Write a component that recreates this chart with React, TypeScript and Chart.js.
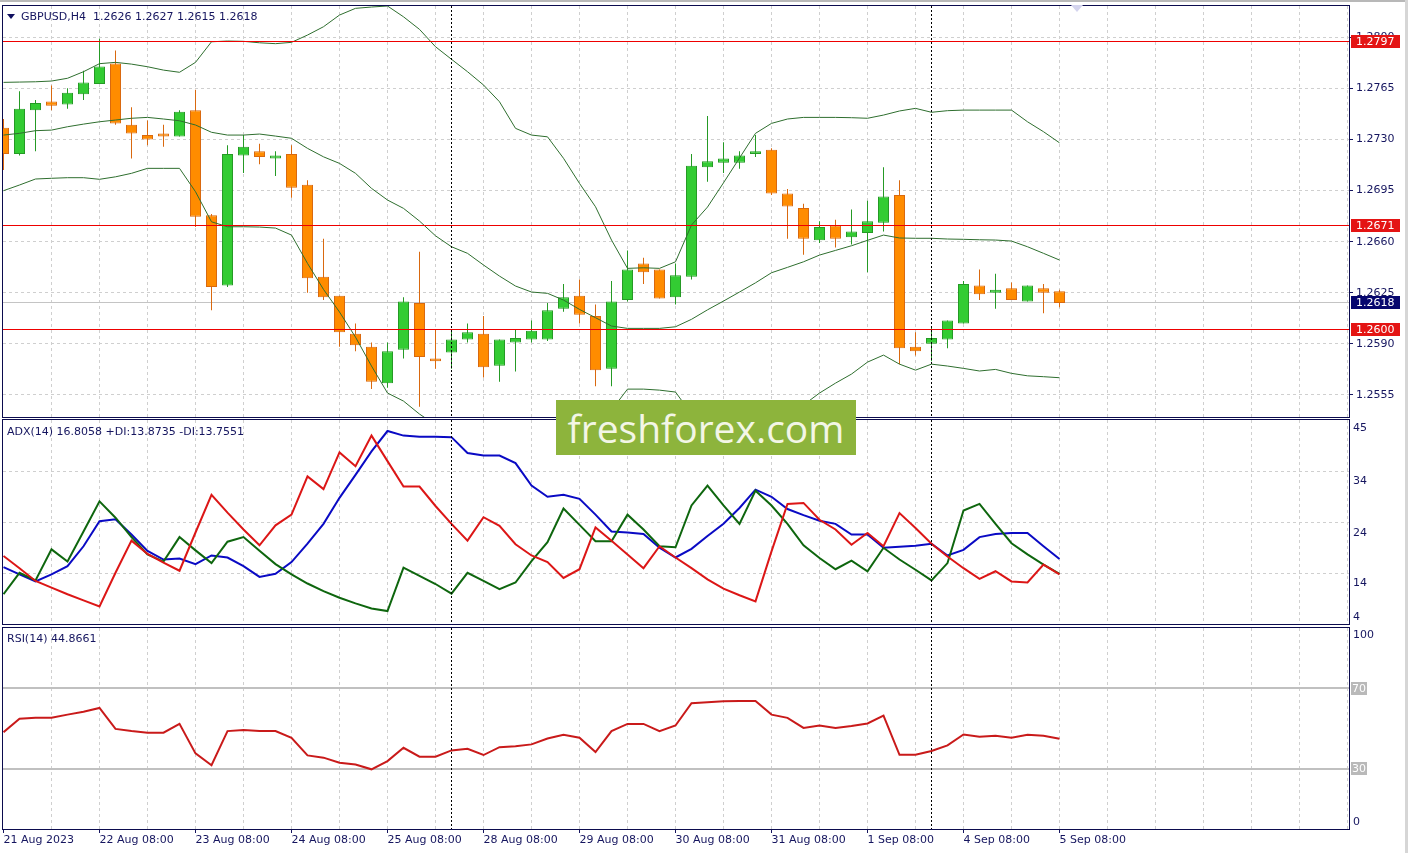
import React, { useEffect, useRef } from 'react';
import { Chart, registerables } from 'chart.js';

Chart.register(...registerables);

// ---------------- data ----------------
const symbolTitle = 'GBPUSD,H4';
const lastOHLC = '1.2626 1.2627 1.2615 1.2618';
const adxTitle = 'ADX(14) 16.8058 +DI:13.8735 -DI:13.7551';
const rsiTitle = 'RSI(14) 44.8661';
const watermark = 'freshforex.com';

const openP = [
  1.2738, 1.2720, 1.2750, 1.2756, 1.2754, 1.2761, 1.2768, 1.2782, 1.2740, 1.2733,
  1.2734, 1.2732, 1.2750, 1.2678, 1.2630, 1.2719, 1.2722, 1.2717, 1.2720, 1.2699,
  1.2636, 1.2623, 1.2597, 1.2588, 1.2563, 1.2586, 1.2618, 1.2580, 1.2584, 1.2593,
  1.2597, 1.2575, 1.2591, 1.2593, 1.2593, 1.2614, 1.2623, 1.2609, 1.2573, 1.2620,
  1.2645, 1.2641, 1.2622, 1.2636, 1.2711, 1.2714, 1.2714, 1.2720, 1.2723, 1.2693,
  1.2683, 1.2661, 1.2671, 1.2663, 1.2666, 1.2673, 1.2692, 1.2588, 1.2590, 1.2593,
  1.2604, 1.2630, 1.2625, 1.2628, 1.2619, 1.2628, 1.2626,
];
const highP = [
  1.2744, 1.2763, 1.2757, 1.2767, 1.2765, 1.2777, 1.2799, 1.2791, 1.2752, 1.2743,
  1.2740, 1.2750, 1.2764, 1.2679, 1.2726, 1.2733, 1.2727, 1.2722, 1.2726, 1.2702,
  1.2662, 1.2623, 1.2604, 1.2591, 1.2591, 1.2622, 1.2653, 1.2600, 1.2599, 1.2604,
  1.2609, 1.2593, 1.2600, 1.2606, 1.2618, 1.2631, 1.2634, 1.2617, 1.2633, 1.2654,
  1.2649, 1.2641, 1.2645, 1.2720, 1.2746, 1.2728, 1.2722, 1.2733, 1.2724, 1.2696,
  1.2686, 1.2674, 1.2675, 1.2682, 1.2688, 1.2711, 1.2702, 1.2598, 1.2601, 1.2606,
  1.2633, 1.2641, 1.2638, 1.2632, 1.2630, 1.2631, 1.2627,
];
const lowP = [
  1.2709, 1.2719, 1.2722, 1.2750, 1.2751, 1.2757, 1.2768, 1.2740, 1.2717, 1.2726,
  1.2725, 1.2732, 1.2670, 1.2613, 1.2629, 1.2707, 1.2713, 1.2705, 1.2690, 1.2625,
  1.2620, 1.2588, 1.2585, 1.2559, 1.2560, 1.2580, 1.2547, 1.2573, 1.2573, 1.2591,
  1.2567, 1.2564, 1.2571, 1.2591, 1.2592, 1.2612, 1.2604, 1.2561, 1.2561, 1.2619,
  1.2631, 1.2621, 1.2617, 1.2634, 1.2701, 1.2707, 1.2710, 1.2718, 1.2692, 1.2662,
  1.2651, 1.2659, 1.2656, 1.2658, 1.2639, 1.2667, 1.2576, 1.2582, 1.2578, 1.2587,
  1.2604, 1.2620, 1.2614, 1.2620, 1.2619, 1.2611, 1.2615,
];
const closeP = [
  1.2720, 1.2751, 1.2755, 1.2753, 1.2762, 1.2769, 1.2780, 1.2741, 1.2734, 1.2730,
  1.2732, 1.2749, 1.2677, 1.2629, 1.2720, 1.2725, 1.2718, 1.2719, 1.2697, 1.2635,
  1.2622, 1.2598, 1.2589, 1.2564, 1.2585, 1.2619, 1.2581, 1.2578, 1.2593, 1.2598,
  1.2574, 1.2593, 1.2594, 1.2599, 1.2613, 1.2622, 1.2610, 1.2572, 1.2619, 1.2641,
  1.2639, 1.2621, 1.2637, 1.2712, 1.2715, 1.2717, 1.2719, 1.2722, 1.2693, 1.2684,
  1.2662, 1.2670, 1.2662, 1.2667, 1.2674, 1.2691, 1.2587, 1.2585, 1.2594, 1.2606,
  1.2631, 1.2624, 1.2627, 1.2620, 1.2630, 1.2625, 1.2618,
];

const bbUpper = [
  1.27691, 1.27693, 1.27695, 1.27700, 1.27719, 1.27764, 1.27819, 1.27828, 1.27816, 1.27798,
  1.27775, 1.27760, 1.27828, 1.27969, 1.27974, 1.27972, 1.27962, 1.27956, 1.27965, 1.28015,
  1.28072, 1.28152, 1.28198, 1.28207, 1.28214, 1.28140, 1.28054, 1.27935, 1.27849, 1.27764,
  1.27673, 1.27558, 1.27376, 1.27330, 1.27318, 1.27171, 1.26999, 1.26839, 1.26611, 1.26417,
  1.26421, 1.26417, 1.26462, 1.26714, 1.26837, 1.27003, 1.27173, 1.27342, 1.27410, 1.27440,
  1.27451, 1.27451, 1.27451, 1.27449, 1.27445, 1.27467, 1.27495, 1.27513, 1.27486, 1.27497,
  1.27501, 1.27501, 1.27501, 1.27501, 1.27421, 1.27353, 1.27277,
];
const bbMiddle = [
  1.27330, 1.27342, 1.27360, 1.27364, 1.27387, 1.27405, 1.27421, 1.27433, 1.27445, 1.27451,
  1.27440, 1.27428, 1.27399, 1.27349, 1.27330, 1.27330, 1.27337, 1.27323, 1.27308, 1.27239,
  1.27181, 1.27136, 1.27068, 1.26965, 1.26885, 1.26828, 1.26741, 1.26640, 1.26565, 1.26520,
  1.26440, 1.26364, 1.26296, 1.26255, 1.26246, 1.26200, 1.26136, 1.26079, 1.26022, 1.26006,
  1.26006, 1.26006, 1.26017, 1.26068, 1.26133, 1.26193, 1.26255, 1.26318, 1.26387, 1.26424,
  1.26462, 1.26508, 1.26540, 1.26572, 1.26609, 1.26645, 1.26625, 1.26623, 1.26623, 1.26618,
  1.26616, 1.26613, 1.26611, 1.26604, 1.26565, 1.26520, 1.26474,
];
const bbLower = [
  1.26949, 1.26988, 1.27029, 1.27034, 1.27038, 1.27038, 1.27027, 1.27044, 1.27068, 1.27102,
  1.27102, 1.27102, 1.26942, 1.26736, 1.26702, 1.26702, 1.26700, 1.26693, 1.26645, 1.26451,
  1.26273, 1.26118, 1.25946, 1.25748, 1.25563, 1.25508, 1.25419, 1.25346, 1.25282, 1.25275,
  1.25207, 1.25172, 1.25214, 1.25179, 1.25172, 1.25227, 1.25275, 1.25316, 1.25446, 1.25590,
  1.25590, 1.25583, 1.25570, 1.25419, 1.25426, 1.25385, 1.25337, 1.25296, 1.25364, 1.25405,
  1.25481, 1.25563, 1.25631, 1.25693, 1.25775, 1.25823, 1.25761, 1.25720, 1.25761, 1.25748,
  1.25732, 1.25714, 1.25725, 1.25698, 1.25681, 1.25675, 1.25668,
];

const adxLine = [
  15.2, 13.8, 12.4, 13.8, 15.4, 19.3, 24.2, 24.6, 21.6, 18.4,
  16.7, 16.9, 15.8, 17.5, 17.1, 15.4, 13.3, 13.9, 16.2, 19.8,
  23.7, 28.8, 33.3, 37.9, 41.9, 41.0, 40.8, 40.8, 40.7, 37.6,
  37.1, 37.1, 35.6, 31.2, 29.0, 29.4, 28.6, 25.5, 22.2, 22.0,
  21.7, 19.0, 17.1, 18.8, 21.3, 23.7, 26.8, 30.4, 29.0, 26.6,
  25.4, 24.3, 23.7, 21.6, 21.6, 19.0, 19.2, 19.4, 19.8, 17.5,
  18.6, 21.1, 21.7, 21.9, 21.9, 19.3, 16.8,
];
const plusDI = [
  9.9, 14.1, 12.6, 18.7, 16.3, 22.2, 28.1, 24.9, 21.1, 17.7,
  16.3, 21.1, 18.5, 16.0, 20.2, 21.1, 18.4, 15.8, 13.8, 12.0,
  10.5, 9.2, 8.1, 7.1, 6.6, 15.1, 13.5, 11.9, 10.0, 14.1,
  12.5, 10.9, 12.2, 16.4, 20.1, 26.7, 23.5, 20.3, 20.3, 25.5,
  22.6, 19.3, 19.1, 27.3, 31.2, 27.3, 23.7, 30.2, 27.3, 23.7,
  19.5, 17.0, 14.8, 16.5, 14.4, 19.0, 16.7, 14.7, 12.6, 16.0,
  26.3, 27.6, 23.7, 19.9, 17.7, 15.7, 13.9,
];
const minusDI = [
  17.4, 15.0, 12.5, 11.2, 9.9, 8.7, 7.5, 14.1, 20.4, 17.8,
  16.1, 14.5, 22.0, 29.4, 25.9, 22.6, 19.5, 23.4, 25.5, 33.0,
  30.5, 37.7, 35.0, 41.0, 36.0, 31.0, 31.0, 27.2, 23.7, 20.4,
  25.0, 23.3, 19.7, 17.5, 16.2, 13.1, 14.8, 23.0, 20.4, 17.7,
  15.0, 19.3, 17.1, 15.0, 12.8, 11.0, 9.7, 8.5, 18.3, 27.6,
  27.8, 24.5, 22.6, 19.6, 21.9, 19.3, 25.8, 22.9, 19.8, 17.3,
  15.0, 12.9, 14.4, 12.4, 12.2, 15.7, 13.8,
];
const rsiLine = [
  48.2, 54.8, 55.3, 55.3, 56.9, 58.3, 60.2, 49.8, 48.7, 47.9,
  47.9, 52.3, 37.6, 31.7, 48.7, 49.2, 48.8, 48.7, 45.4, 36.6,
  35.5, 33.0, 32.1, 29.7, 33.8, 40.4, 36.0, 36.0, 39.1, 39.9,
  36.8, 40.7, 41.2, 42.1, 45.0, 46.9, 45.4, 38.3, 48.7, 52.3,
  52.3, 48.7, 51.5, 62.6, 63.1, 63.6, 63.7, 63.7, 56.9, 55.3,
  50.3, 51.5, 50.3, 51.2, 52.5, 56.4, 36.9, 36.9, 38.8, 41.6,
  47.0, 45.9, 46.4, 45.4, 46.9, 46.4, 44.9,
];

const levels = [1.2797, 1.2671, 1.26];
const levelLabels = ['1.2797', '1.2671', '1.2600'];
const lastPrice = 1.2618;
const lastPriceLabel = '1.2618';
const priceTicks = [1.2555, 1.259, 1.2625, 1.266, 1.2695, 1.273, 1.2765, 1.28];
const priceMin = 1.25399;
const priceMax = 1.28214;

const adxMin = 4.06;
const adxMax = 44.06;
const adxGridTicks = [14, 24, 34];
const adxAxisLabels = ['45', '34', '24', '14', '4'];
const adxAxisLabelValues = [42.4, 32.0, 21.9, 12.0, 5.4];

const rsiLevels = [70, 30];
const rsiLevelLabels = ['70', '30'];
const rsiAxisLabels = ['100', '0'];
const rsiAxisLabelValues = [96.4, 3.3];

const weekStarts = [28, 58];
const timeLabels = [
  '21 Aug 2023', '22 Aug 08:00', '23 Aug 08:00', '24 Aug 08:00', '25 Aug 08:00', '28 Aug 08:00',
  '29 Aug 08:00', '30 Aug 08:00', '31 Aug 08:00', '1 Sep 08:00', '4 Sep 08:00', '5 Sep 08:00',
];
const timeLabelBars = [0, 6, 12, 18, 24, 30, 36, 42, 48, 54, 60, 66];

// ---------------- layout / style ----------------
const X_MIN = -0.03125;
const X_MAX = 84.09375;
const GRID_STEP = 3;
const AXIS_W = 59;
const NAVY = '#15155f';
const FRAME = '#0b0b4e';
const GRID = '#cfcfcf';
const FONT = "'DejaVu Sans', 'Liberation Sans', sans-serif";
const BULL = '#33cc33';
const BULL_EDGE = '#259a25';
const BEAR = '#ff8c00';
const BEAR_EDGE = '#d9690f';
const BAND = '#2e6e2e';
const RED = '#ee0000';

const fixWidth = (w: number) => (s: any) => {
  s.width = w;
  s.paddingTop = 0; s.paddingBottom = 0; s.paddingLeft = 0; s.paddingRight = 0;
};
const fixHeight = (h: number) => (s: any) => {
  s.height = h;
  s.paddingTop = 0; s.paddingBottom = 0; s.paddingLeft = 0; s.paddingRight = 0;
};

function makeX(withLabels: boolean, h: number): any {
  return {
    type: 'linear',
    position: 'bottom',
    min: X_MIN,
    max: X_MAX,
    offset: false,
    afterBuildTicks: (s: any) => {
      const t: any[] = [];
      for (let v = 0; v <= X_MAX; v += GRID_STEP) t.push({ value: v });
      s.ticks = t;
    },
    afterFit: fixHeight(h),
    grid: {
      display: true,
      offset: false,
      drawOnChartArea: true,
      color: (c: any) => (c.tick && c.tick.value === 0 ? 'rgba(0,0,0,0)' : GRID),
      lineWidth: 1,
      drawTicks: withLabels,
      tickLength: 4,
      tickWidth: 1,
      tickColor: (c: any) => (c.tick && timeLabelBars.indexOf(c.tick.value) >= 0 ? NAVY : 'rgba(0,0,0,0)'),
    },
    border: { display: false, dash: [3, 3] },
    ticks: {
      display: withLabels,
      autoSkip: false,
      maxRotation: 0,
      minRotation: 0,
      align: 'start',
      padding: 1,
      color: NAVY,
      font: { family: FONT, size: 11 },
      callback: (v: any) => {
        const k = timeLabelBars.indexOf(Number(v));
        return k >= 0 ? timeLabels[k] : '';
      },
    },
  };
}

const framePlugin = {
  id: 'frame',
  afterDraw(chart: any) {
    const { ctx, chartArea: a } = chart;
    ctx.save();
    ctx.strokeStyle = FRAME;
    ctx.lineWidth = 1;
    ctx.setLineDash([]);
    ctx.strokeRect(a.left - 0.5, a.top - 0.5, a.right - a.left + 1, a.bottom - a.top + 1);
    ctx.restore();
  },
};

const sepPlugin = {
  id: 'weekSep',
  afterDatasetsDraw(chart: any) {
    const { ctx, chartArea: a, scales } = chart;
    ctx.save();
    ctx.strokeStyle = '#000000';
    ctx.lineWidth = 1;
    ctx.setLineDash([2, 2]);
    weekStarts.forEach((i) => {
      const x = Math.floor(scales.x.getPixelForValue(i)) + 0.5;
      ctx.beginPath();
      ctx.moveTo(x, a.top);
      ctx.lineTo(x, a.bottom);
      ctx.stroke();
    });
    ctx.restore();
  },
};

function axisBox(ctx: any, x: number, yc: number, w: number, h: number, bg: string, text: string, tx: number) {
  const top = Math.round(yc - h / 2);
  ctx.fillStyle = bg;
  ctx.fillRect(x, top, w, h);
  ctx.fillStyle = '#ffffff';
  ctx.font = `11px ${FONT}`;
  ctx.textAlign = 'left';
  ctx.textBaseline = 'middle';
  ctx.fillText(text, tx, top + h / 2 + 0.5);
}

const pricePlugin = {
  id: 'priceLevels',
  beforeDatasetsDraw(chart: any) {
    const { ctx, chartArea: a, scales } = chart;
    const py = Math.floor(scales.y.getPixelForValue(lastPrice));
    ctx.save();
    ctx.fillStyle = '#c4c4c4';
    ctx.fillRect(a.left, py, a.right - a.left, 1);
    ctx.restore();
  },
  afterDatasetsDraw(chart: any) {
    const { ctx, chartArea: a, scales } = chart;
    ctx.save();
    ctx.fillStyle = RED;
    levels.forEach((l) => {
      const py = Math.floor(scales.y.getPixelForValue(l));
      ctx.fillRect(a.left, py, a.right - a.left, 1);
    });
    ctx.restore();
  },
  afterDraw(chart: any) {
    const { ctx, chartArea: a, scales } = chart;
    ctx.save();
    levels.forEach((l, k) => {
      axisBox(ctx, a.right + 2, scales.y.getPixelForValue(l), 49, 13, '#e41414', levelLabels[k], a.right + 7);
    });
    axisBox(ctx, a.right + 2, scales.y.getPixelForValue(lastPrice), 49, 13, '#06066e', lastPriceLabel, a.right + 7);
    ctx.restore();
  },
};

const rsiPlugin = {
  id: 'rsiLevels',
  beforeDatasetsDraw(chart: any) {
    const { ctx, chartArea: a, scales } = chart;
    ctx.save();
    ctx.fillStyle = '#c0c0c0';
    rsiLevels.forEach((l) => {
      const py = Math.round(scales.y.getPixelForValue(l));
      ctx.fillRect(a.left, py - 1, a.right - a.left, 2);
    });
    ctx.restore();
  },
  afterDraw(chart: any) {
    const { ctx, chartArea: a, scales } = chart;
    ctx.save();
    rsiLevels.forEach((l, k) => {
      axisBox(ctx, a.right + 2, scales.y.getPixelForValue(l), 16, 13, '#b9b9b9', rsiLevelLabels[k], a.right + 3);
    });
    ctx.restore();
  },
};

const labelAxis = (min: number, max: number, values: number[], labels: string[]): any => ({
  type: 'linear',
  position: 'right',
  min,
  max,
  beginAtZero: false,
  afterBuildTicks: (s: any) => {
    s.ticks = values.map((v) => ({ value: v }));
  },
  afterFit: fixWidth(AXIS_W),
  grid: { display: false, drawTicks: false, drawOnChartArea: false },
  border: { display: false },
  ticks: {
    padding: 4,
    color: NAVY,
    font: { family: FONT, size: 11 },
    autoSkip: false,
    callback: (v: any) => {
      const k = values.indexOf(Number(v));
      return k >= 0 ? labels[k] : '';
    },
  },
});

const commonOpts = {
  responsive: false,
  animation: false,
  devicePixelRatio: 1,
  events: [],
  plugins: { legend: { display: false }, tooltip: { enabled: false }, title: { display: false } },
};

export default function App() {
  const priceRef = useRef<HTMLCanvasElement>(null);
  const adxRef = useRef<HTMLCanvasElement>(null);
  const rsiRef = useRef<HTMLCanvasElement>(null);

  useEffect(() => {
    Chart.defaults.font.family = FONT;
    Chart.defaults.font.size = 11;
    Chart.defaults.color = NAVY;

    const idx = openP.map((_, i) => i);
    const bull = idx.map((i) => closeP[i] >= openP[i]);

    const price = new Chart(priceRef.current as HTMLCanvasElement, {
      type: 'bar',
      data: {
        datasets: [
          {
            type: 'bar',
            label: 'wick',
            data: idx.map((i) => ({ x: i, y: [lowP[i], highP[i]] })),
            backgroundColor: idx.map((i) => (bull[i] ? BULL_EDGE : BEAR_EDGE)),
            borderWidth: 0,
            barThickness: 1,
            grouped: false,
            inflateAmount: 0,
            order: 3,
          },
          {
            type: 'bar',
            label: 'body',
            data: idx.map((i) => ({ x: i, y: [openP[i], closeP[i]] })),
            backgroundColor: idx.map((i) => (bull[i] ? BULL : BEAR)),
            borderColor: idx.map((i) => (bull[i] ? BULL_EDGE : BEAR_EDGE)),
            borderWidth: 1,
            borderSkipped: false,
            barThickness: 11,
            grouped: false,
            inflateAmount: 0,
            order: 2,
          },
          {
            type: 'line',
            label: 'upper',
            data: idx.map((i) => ({ x: i, y: bbUpper[i] })),
            borderColor: BAND,
            borderWidth: 1,
            pointRadius: 0,
            order: 1,
          },
          {
            type: 'line',
            label: 'middle',
            data: idx.map((i) => ({ x: i, y: bbMiddle[i] })),
            borderColor: BAND,
            borderWidth: 1,
            pointRadius: 0,
            order: 1,
          },
          {
            type: 'line',
            label: 'lower',
            data: idx.map((i) => ({ x: i, y: bbLower[i] })),
            borderColor: BAND,
            borderWidth: 1,
            pointRadius: 0,
            order: 1,
          },
        ] as any,
      },
      options: {
        ...commonOpts,
        layout: { padding: { left: 3, top: 6, right: 0, bottom: 3 } },
        scales: {
          x: makeX(false, 0),
          y: {
            type: 'linear',
            position: 'right',
            min: priceMin,
            max: priceMax,
            beginAtZero: false,
            afterBuildTicks: (s: any) => {
              s.ticks = priceTicks.map((v) => ({ value: v }));
            },
            afterFit: fixWidth(AXIS_W),
            grid: { color: GRID, drawTicks: true, tickLength: 4, tickColor: NAVY, tickWidth: 1 },
            border: { display: false, dash: [3, 3] },
            ticks: {
              padding: 3,
              color: NAVY,
              font: { family: FONT, size: 11 },
              autoSkip: false,
              callback: (v: any) => Number(v).toFixed(4),
            },
          },
        },
      } as any,
      plugins: [pricePlugin, sepPlugin, framePlugin],
    });

    const adx = new Chart(adxRef.current as HTMLCanvasElement, {
      type: 'line',
      data: {
        datasets: [
          {
            label: '-DI',
            data: idx.map((i) => ({ x: i, y: minusDI[i] })),
            borderColor: '#dc1616',
            borderWidth: 2,
            pointRadius: 0,
            yAxisID: 'y',
            order: 0,
          },
          {
            label: '+DI',
            data: idx.map((i) => ({ x: i, y: plusDI[i] })),
            borderColor: '#0e660e',
            borderWidth: 2,
            pointRadius: 0,
            yAxisID: 'y',
            order: 1,
          },
          {
            label: 'ADX',
            data: idx.map((i) => ({ x: i, y: adxLine[i] })),
            borderColor: '#0a0ac4',
            borderWidth: 2,
            pointRadius: 0,
            yAxisID: 'y',
            order: 2,
          },
        ] as any,
      },
      options: {
        ...commonOpts,
        layout: { padding: { left: 3, top: 2, right: 0, bottom: 2 } },
        scales: {
          x: makeX(false, 0),
          yg: {
            type: 'linear',
            position: 'left',
            min: adxMin,
            max: adxMax,
            beginAtZero: false,
            afterBuildTicks: (s: any) => {
              s.ticks = adxGridTicks.map((v) => ({ value: v }));
            },
            afterFit: fixWidth(0),
            grid: { color: GRID, drawTicks: false },
            border: { display: false, dash: [3, 3] },
            ticks: { display: false },
          },
          y: labelAxis(adxMin, adxMax, adxAxisLabelValues, adxAxisLabels),
        },
      } as any,
      plugins: [sepPlugin, framePlugin],
    });

    const rsi = new Chart(rsiRef.current as HTMLCanvasElement, {
      type: 'line',
      data: {
        datasets: [
          {
            label: 'RSI',
            data: idx.map((i) => ({ x: i, y: rsiLine[i] })),
            borderColor: '#c91a1a',
            borderWidth: 2,
            pointRadius: 0,
          },
        ] as any,
      },
      options: {
        ...commonOpts,
        layout: { padding: { left: 3, top: 2, right: 0, bottom: 0 } },
        scales: {
          x: makeX(true, 24),
          y: labelAxis(0, 100, rsiAxisLabelValues, rsiAxisLabels),
        },
      } as any,
      plugins: [rsiPlugin, sepPlugin, framePlugin],
    });

    return () => {
      price.destroy();
      adx.destroy();
      rsi.destroy();
    };
  }, []);

  const text: React.CSSProperties = {
    position: 'absolute',
    fontFamily: FONT,
    fontSize: 11,
    lineHeight: '13px',
    color: NAVY,
    whiteSpace: 'pre',
    zIndex: 5,
  };

  return (
    <div
      style={{
        position: 'absolute',
        left: 0,
        top: 0,
        width: 1408,
        height: 853,
        background: '#ffffff',
        overflow: 'hidden',
      }}
    >
      <canvas ref={priceRef} width={1408} height={420} style={{ position: 'absolute', left: 0, top: 0, width: 1408, height: 420 }} />
      <canvas ref={adxRef} width={1408} height={208} style={{ position: 'absolute', left: 0, top: 418, width: 1408, height: 208 }} />
      <canvas ref={rsiRef} width={1408} height={227} style={{ position: 'absolute', left: 0, top: 626, width: 1408, height: 227 }} />

      <div style={{ position: 'absolute', left: 0, top: 0, width: 1408, height: 2, background: '#b8b8b8', zIndex: 4 }} />
      <div style={{ position: 'absolute', left: 1405, top: 0, width: 3, height: 853, background: '#d6d6d6', zIndex: 4 }} />

      <div
        style={{
          position: 'absolute',
          left: 7,
          top: 14,
          width: 0,
          height: 0,
          borderLeft: '4px solid transparent',
          borderRight: '4px solid transparent',
          borderTop: '5px solid #101060',
          zIndex: 5,
        }}
      />
      <div style={{ ...text, left: 21, top: 10 }}>{`${symbolTitle}  ${lastOHLC}`}</div>
      <div style={{ ...text, left: 7, top: 425 }}>{adxTitle}</div>
      <div style={{ ...text, left: 7, top: 632 }}>{rsiTitle}</div>

      <div
        style={{
          position: 'absolute',
          left: 1071,
          top: 5,
          width: 0,
          height: 0,
          borderLeft: '6px solid transparent',
          borderRight: '6px solid transparent',
          borderTop: '7px solid #d4d4ee',
          zIndex: 5,
        }}
      />

      <div
        style={{
          position: 'absolute',
          left: 556,
          top: 400,
          width: 300,
          height: 55,
          background: '#8db43c',
          color: '#f3f6e6',
          fontFamily: "'Open Sans', 'Noto Sans', sans-serif",
          fontSize: 39,
          lineHeight: '55px',
          textAlign: 'center',
          whiteSpace: 'nowrap',
          zIndex: 6,
        }}
      >
        {watermark}
      </div>
    </div>
  );
}
